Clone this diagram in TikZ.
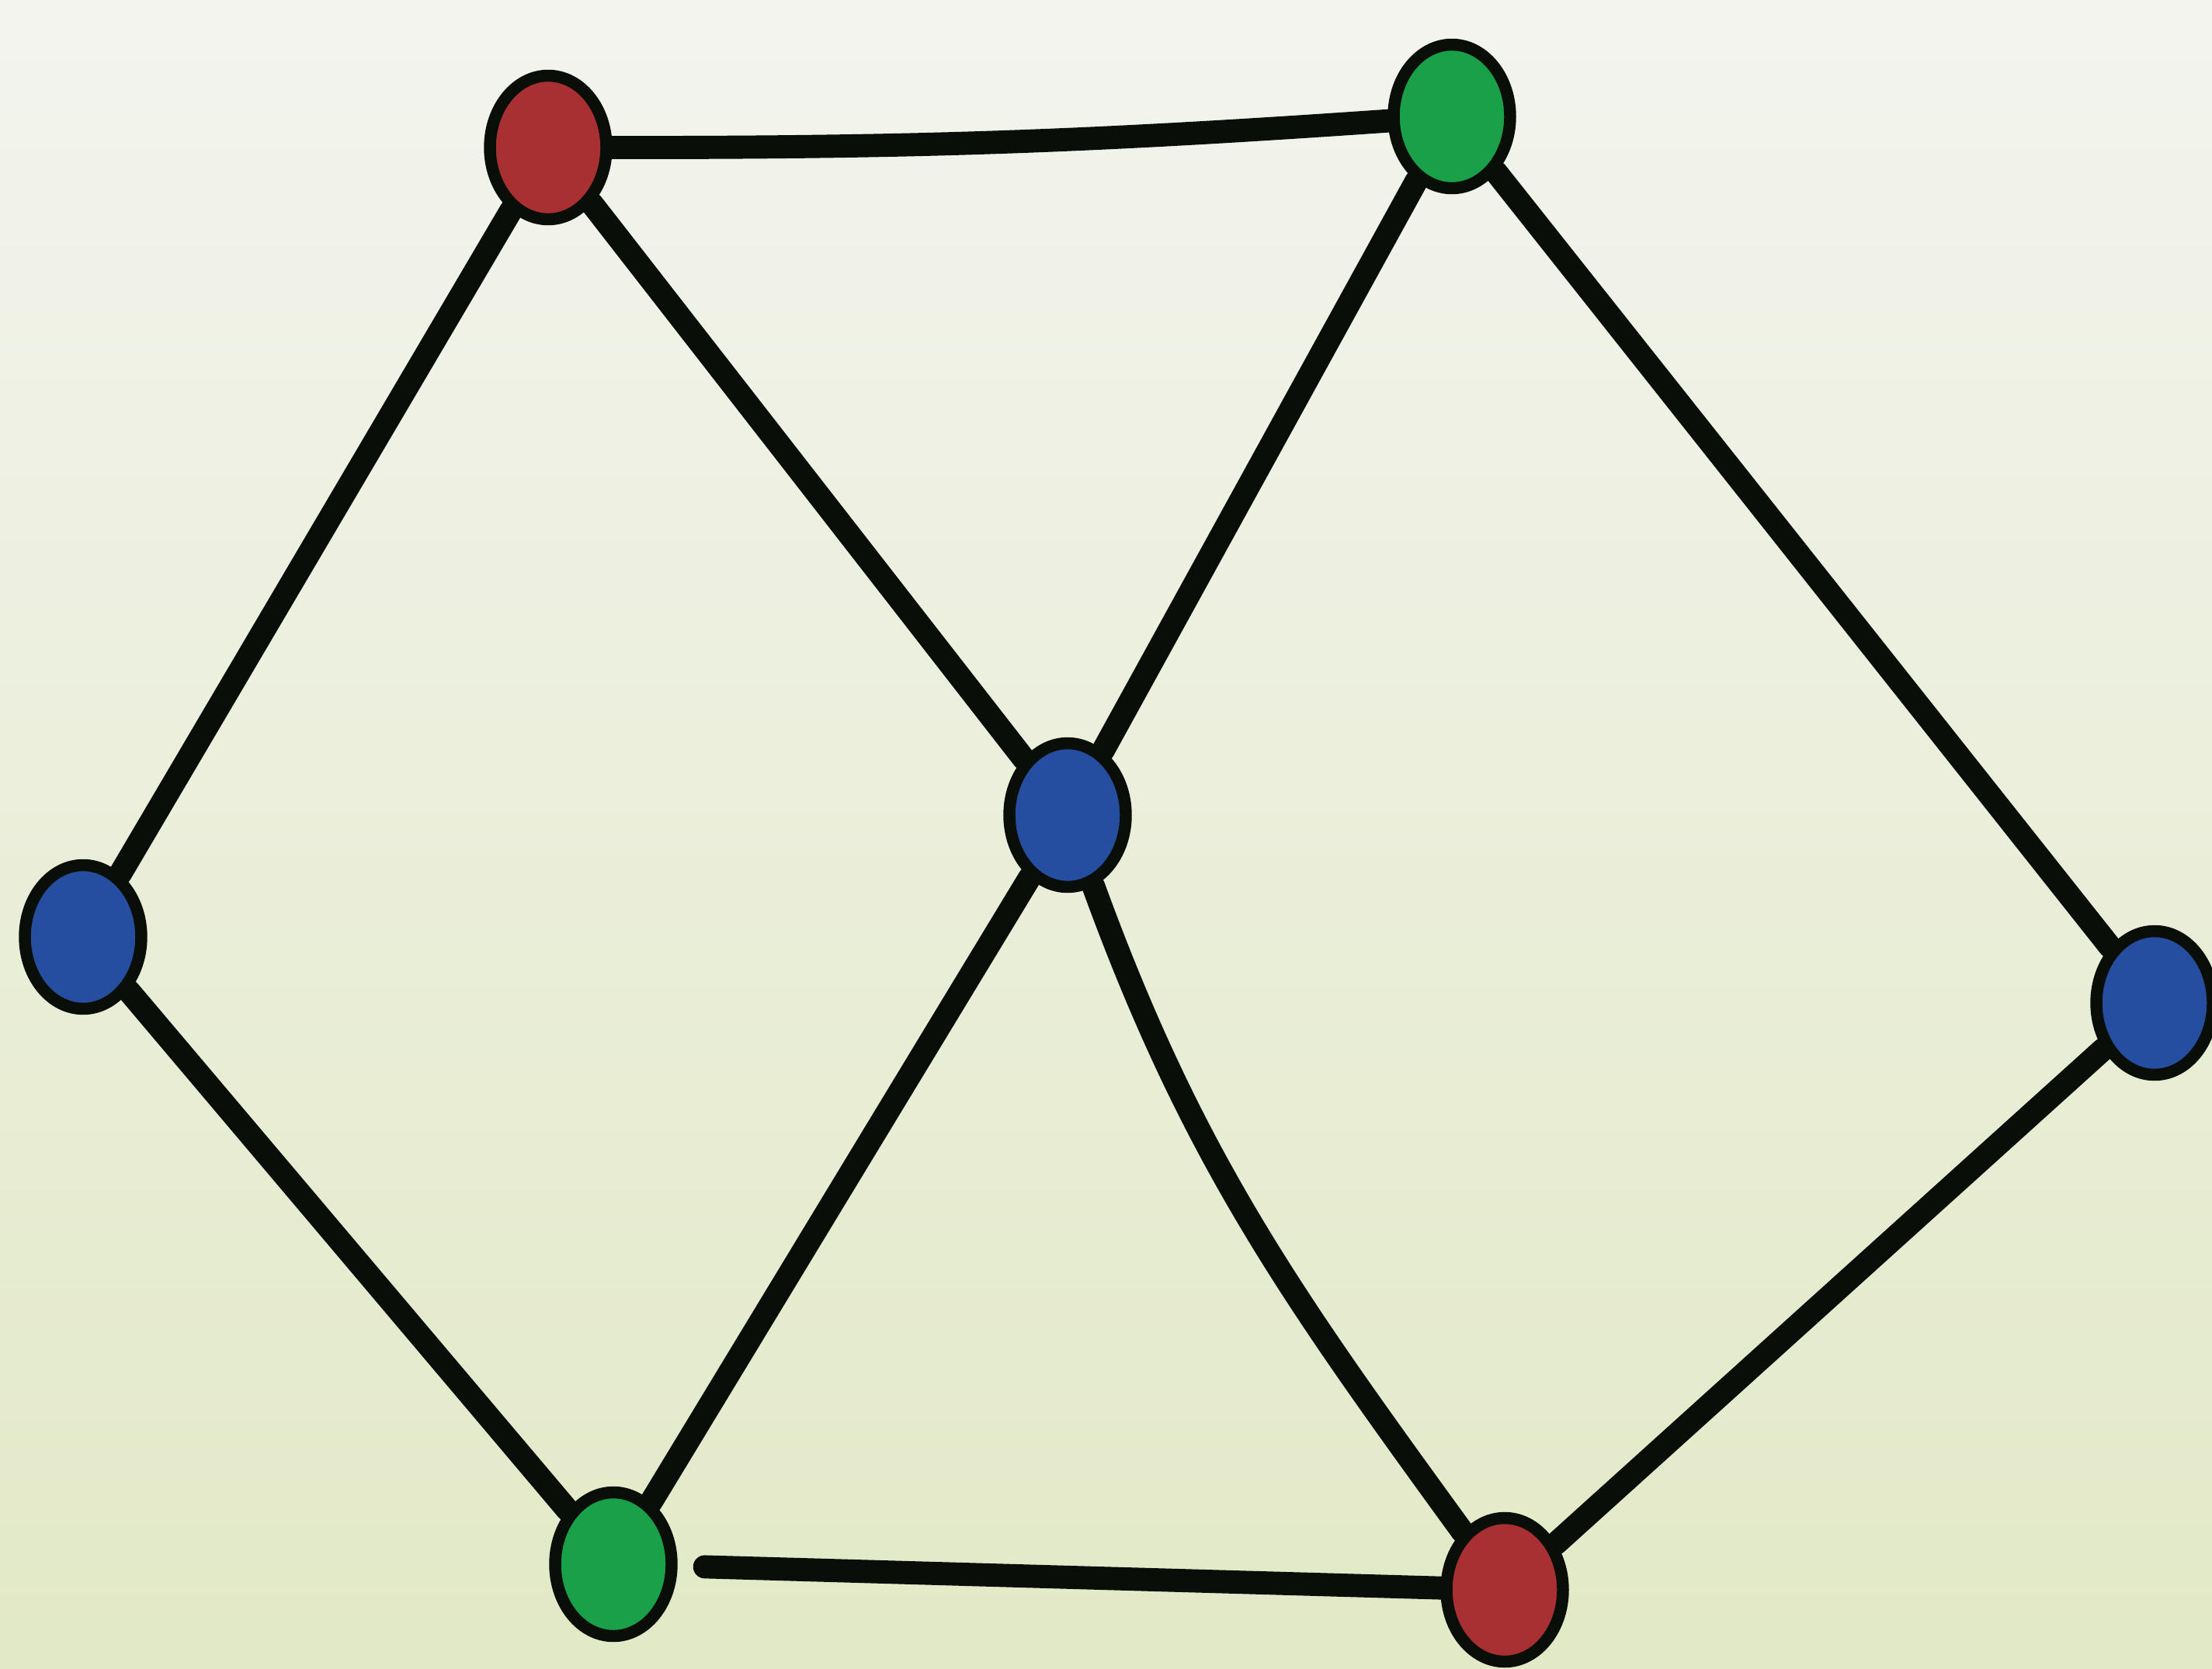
\documentclass[tikz,border=0pt]{standalone}
\usetikzlibrary{shapes.geometric}
\definecolor{bgtop}{RGB}{243,244,238}
\definecolor{bgbot}{RGB}{226,233,198}
\definecolor{vred}{RGB}{168,48,50}
\definecolor{vgreen}{RGB}{26,160,72}
\definecolor{vblue}{RGB}{38,78,160}
\definecolor{ink}{RGB}{10,14,8}
\begin{document}
\begin{tikzpicture}[
        vertex/.style={ellipse, draw=ink, line width=4.4pt, minimum width=1.5cm, minimum height=1.85cm, inner sep=0pt},
        edge/.style={draw=ink, line width=8.5pt, line cap=round}
    ]
        \useasboundingbox (0,0) rectangle (28.49,21.49);
        \shade[top color=bgtop, bottom color=bgbot] (0,0) rectangle (28.49,21.49);

        \node[vertex, fill=vred] (redtop) at (7.06,19.59) {};
        \node[vertex, fill=vgreen] (greentop) at (18.70,19.99) {};
        \node[vertex, fill=vblue] (blueleft) at (1.07,9.42) {};
        \node[vertex, fill=vblue] (bluemid) at (13.75,10.99) {};
        \node[vertex, fill=vblue] (blueright) at (27.75,8.57) {};
        \node[vertex, fill=vgreen] (greenbot) at (7.90,1.34) {};
        \node[vertex, fill=vred] (redbot) at (19.38,1.01) {};

        \draw[edge] (redtop) to[bend right=2] (greentop);
        \draw[edge] (redtop) -- (blueleft);
        \draw[edge] (redtop) -- (bluemid);
        \draw[edge] (greentop) -- (bluemid);
        \draw[edge] (greentop) -- (blueright);
        \draw[edge] (blueleft) -- (greenbot);
        \draw[edge] (bluemid) -- (greenbot);
        \draw[edge] (bluemid) to[out=-70, in=126] (redbot);
        \draw[edge] (blueright) -- (redbot);
        \draw[edge, shorten <=0.35cm] (greenbot) -- (redbot);
    \end{tikzpicture}
\end{document}
